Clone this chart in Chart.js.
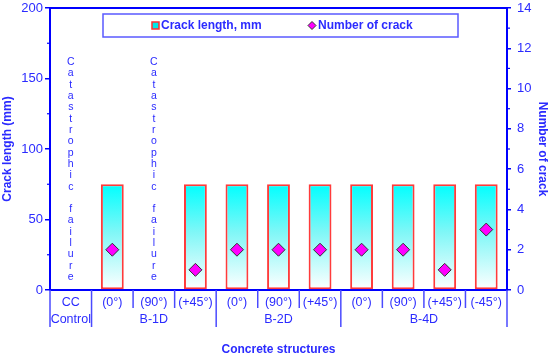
<!DOCTYPE html>
<html>
<head>
<meta charset="utf-8">
<script src="https://cdn.jsdelivr.net/npm/chart.js@4/dist/chart.umd.min.js"></script>
<style>
  html, body { margin: 0; padding: 0; background: #ffffff; }
  #wrap { width: 550px; height: 359px; position: relative; }
</style>
</head>
<body>
<div id="wrap"><canvas id="c" width="550" height="359"></canvas></div>
<script>
// ---- data ----
const categories = ['CC', '(0°)', '(90°)', '(+45°)', '(0°)', '(90°)', '(+45°)', '(0°)', '(90°)', '(+45°)', '(-45°)'];
const groupLabels = ['Control', 'B-1D', 'B-2D', 'B-4D'];
const groupStart = [0, 1, 4, 7];
const groupEnd = [0, 3, 6, 10];
const crackLength = [null, 75, null, 75, 75, 75, 75, 75, 75, 75, 75];
const crackNumber = [null, 2, null, 1, 2, 2, 2, 2, 2, 1, 3];
const failureText = 'Catastrophic failure';
const failureIndex = [0, 2];
const leftTicks = [0, 50, 100, 150, 200];
const rightTicks = [0, 2, 4, 6, 8, 10, 12, 14];

const BLUE = '#0000ff';
const TEXT = '#2b2bff';
const FONT = 'Liberation Sans, Arial, sans-serif';

const decorPlugin = {
  id: 'decor',
  afterDraw(chart) {
    const ctx = chart.ctx;
    const ca = chart.chartArea;
    const xs = chart.scales.x, ys = chart.scales.y, y1 = chart.scales.y1;
    ctx.save();
    // top frame line
    ctx.strokeStyle = BLUE; ctx.lineWidth = 2;
    ctx.beginPath(); ctx.moveTo(ca.left - 1, ca.top); ctx.lineTo(ca.right + 1, ca.top); ctx.stroke();
    // minor ticks
    ctx.lineWidth = 1.2;
    for (let i = 0; i < leftTicks.length - 1; i++) {
      const v = (leftTicks[i] + leftTicks[i + 1]) / 2;
      const py = ys.getPixelForValue(v);
      ctx.beginPath(); ctx.moveTo(ca.left - 3, py); ctx.lineTo(ca.left, py); ctx.stroke();
    }
    for (let i = 0; i < rightTicks.length - 1; i++) {
      const v = (rightTicks[i] + rightTicks[i + 1]) / 2;
      const py = y1.getPixelForValue(v);
      ctx.beginPath(); ctx.moveTo(ca.right, py); ctx.lineTo(ca.right + 3, py); ctx.stroke();
    }
    // category separators below axis
    const half = (xs.getPixelForValue(1) - xs.getPixelForValue(0)) / 2;
    const longEdges = new Set();
    groupStart.forEach(s => longEdges.add(s));
    longEdges.add(categories.length);
    ctx.strokeStyle = '#4a4aff'; ctx.lineWidth = 1.5;
    for (let i = 0; i <= categories.length; i++) {
      const px = xs.getPixelForValue(i) - half;
      const len = longEdges.has(i) ? 37 : 18;
      ctx.beginPath(); ctx.moveTo(px, ca.bottom); ctx.lineTo(px, ca.bottom + len); ctx.stroke();
    }
    // group labels
    ctx.fillStyle = TEXT;
    ctx.font = '12.5px ' + FONT;
    ctx.textAlign = 'center'; ctx.textBaseline = 'middle';
    groupLabels.forEach((g, i) => {
      const px = (xs.getPixelForValue(groupStart[i]) + xs.getPixelForValue(groupEnd[i])) / 2;
      ctx.fillText(g, px, ca.bottom + 30);
    });
    // catastrophic failure vertical text
    ctx.font = '10.5px ' + FONT;
    const topY = ys.getPixelForValue(161.5), botY = ys.getPixelForValue(9.2);
    const step = (botY - topY) / (failureText.length - 1);
    failureIndex.forEach(idx => {
      const px = xs.getPixelForValue(idx);
      for (let k = 0; k < failureText.length; k++) {
        ctx.fillText(failureText[k], px, topY + k * step);
      }
    });
    // legend box
    const lx = ca.left + 53, ly = ca.top + 6, lw = 355, lh = 23;
    ctx.strokeStyle = '#5a5aff'; ctx.lineWidth = 1.5;
    ctx.strokeRect(lx, ly, lw, lh);
    const cy = ly + lh / 2;
    // item 1: bar icon
    ctx.fillStyle = '#00e8e8';
    ctx.fillRect(lx + 49, cy - 3.5, 7, 7);
    ctx.strokeStyle = '#ff3030'; ctx.lineWidth = 1.5;
    ctx.strokeRect(lx + 49, cy - 3.5, 7, 7);
    ctx.fillStyle = TEXT; ctx.font = 'bold 12px ' + FONT; ctx.textAlign = 'left';
    ctx.fillText('Crack length, mm', lx + 58, cy + 0.5);
    // item 2: diamond icon
    const dx = lx + 209;
    ctx.beginPath();
    ctx.moveTo(dx, cy - 4); ctx.lineTo(dx + 4, cy); ctx.lineTo(dx, cy + 4); ctx.lineTo(dx - 4, cy); ctx.closePath();
    ctx.fillStyle = '#ff00ff'; ctx.fill();
    ctx.strokeStyle = '#333333'; ctx.lineWidth = 1; ctx.stroke();
    ctx.fillStyle = TEXT;
    ctx.fillText('Number of crack', dx + 6, cy + 0.5);
    ctx.restore();
  }
};

function barGradient(context) {
  const chart = context.chart;
  const ca = chart.chartArea;
  if (!ca) return '#00ffff';
  const ys = chart.scales.y;
  const top = ys.getPixelForValue(75), bottom = ys.getPixelForValue(0);
  const g = chart.ctx.createLinearGradient(0, top, 0, bottom);
  g.addColorStop(0, '#00ffff');
  g.addColorStop(0.45, '#7ff7f7');
  g.addColorStop(1, '#ffffff');
  return g;
}

new Chart(document.getElementById('c'), {
  type: 'bar',
  data: {
    labels: categories,
    datasets: [
      {
        type: 'line',
        label: 'Number of crack',
        data: crackNumber,
        yAxisID: 'y1',
        showLine: false,
        pointStyle: 'rectRot',
        pointRadius: 6.5,
        pointBackgroundColor: '#ff00ff',
        pointBorderColor: '#333333',
        pointBorderWidth: 1,
        order: 0
      },
      {
        type: 'bar',
        label: 'Crack length, mm',
        data: crackLength,
        yAxisID: 'y',
        backgroundColor: barGradient,
        borderColor: '#ff3b3b',
        borderWidth: 2,
        borderSkipped: false,
        barPercentage: 0.55,
        categoryPercentage: 1.0,
        order: 1
      }
    ]
  },
  options: {
    responsive: false,
    animation: false,
    layout: { padding: { top: 8, left: 0, right: 0, bottom: 0 } },
    plugins: { legend: { display: false }, tooltip: { enabled: false } },
    scales: {
      x: {
        offset: true,
        grid: { display: false, drawTicks: false, tickLength: 0 },
        border: { color: BLUE, width: 2 },
        ticks: { color: TEXT, font: { size: 12.5, family: FONT }, padding: 5, maxRotation: 0, autoSkip: false },
        title: { display: true, text: 'Concrete structures', color: TEXT, font: { size: 12, weight: 'bold', family: FONT }, padding: { top: 0, bottom: 2 } },
        afterFit(s) { s.height = 69; s.paddingLeft = 0; s.paddingRight = 0; }
      },
      y: {
        position: 'left',
        min: 0, max: 200,
        ticks: { stepSize: 50, color: TEXT, font: { size: 13, family: FONT }, padding: 2 },
        grid: { drawOnChartArea: false, tickLength: 5, color: BLUE, lineWidth: 1.5 },
        border: { color: BLUE, width: 2 },
        title: { display: true, text: 'Crack length (mm)', color: TEXT, font: { size: 12, weight: 'bold', family: FONT }, padding: 0 },
        afterFit(s) { s.width = 50; s.paddingTop = 0; s.paddingBottom = 0; }
      },
      y1: {
        position: 'right',
        min: 0, max: 14,
        ticks: { stepSize: 2, color: TEXT, font: { size: 13, family: FONT }, padding: 6 },
        grid: { drawOnChartArea: false, tickLength: 4, color: BLUE, lineWidth: 1.5 },
        border: { color: BLUE, width: 2 },
        title: { display: true, text: 'Number of crack', color: TEXT, font: { size: 12, weight: 'bold', family: FONT }, padding: 0 },
        afterFit(s) { s.width = 43; s.paddingTop = 0; s.paddingBottom = 0; }
      }
    }
  },
  plugins: [decorPlugin]
});
</script>
</body>
</html>
